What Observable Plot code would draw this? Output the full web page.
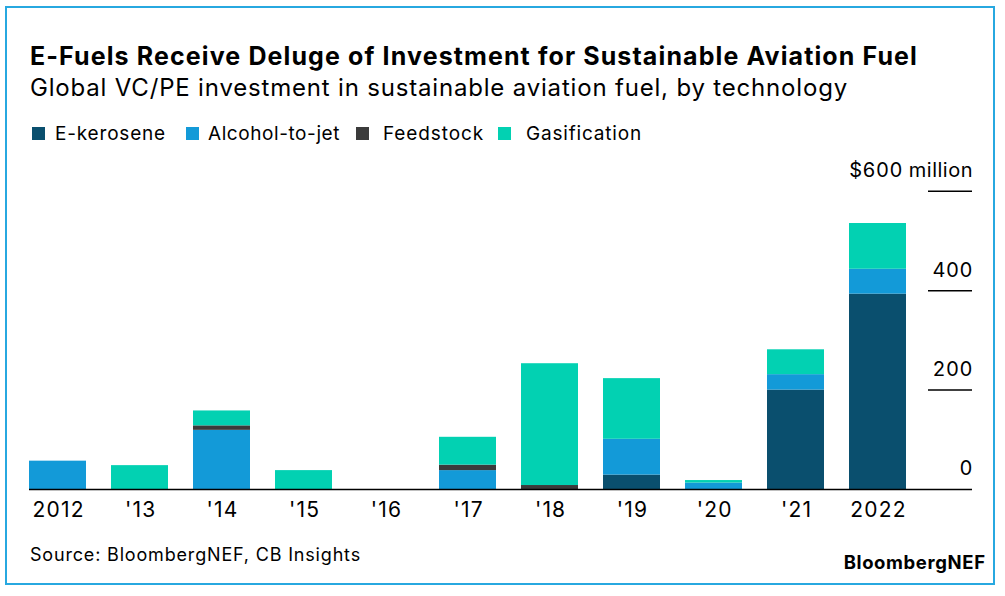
<!DOCTYPE html>
<html>
<head>
<meta charset="utf-8">
<script src="https://cdn.jsdelivr.net/npm/d3@7"></script>
<script src="https://cdn.jsdelivr.net/npm/@observablehq/plot@0.6"></script>
<style>
  html, body { margin: 0; padding: 0; background: #fff; }
  #wrap { position: relative; width: 1005px; height: 596px; overflow: hidden; background: #fff; font-family: Inter, "Liberation Sans", Arial, sans-serif; color: #000; }
  #frame { position: absolute; left: 5px; top: 6px; width: 990px; height: 579px; box-sizing: border-box; border: 2.5px solid #27a8e0; }
  .t { position: absolute; white-space: nowrap; }
  #title { left: 30px; top: 44px; font-size: 25px; line-height: 25px; font-weight: 700; }
  #subtitle { left: 30px; top: 75.5px; font-size: 24px; line-height: 24px; }
  .leg { position: absolute; top: 124.3px; font-size: 19px; line-height: 19px; white-space: nowrap; }
  .sw { position: absolute; top: 127px; width: 13px; height: 13px; }
  #source { left: 30px; top: 546px; font-size: 18px; line-height: 18px; }
  #brand { top: 552.7px; font-size: 18.5px; line-height: 18.5px; font-weight: 700; }
  #chart { position: absolute; left: 0; top: 150px; }
</style>
</head>
<body>
<div id="wrap">
  <div id="frame"></div>
  <div class="t" id="title" data-w="888">E-Fuels Receive Deluge of Investment for Sustainable Aviation Fuel</div>
  <div class="t" id="subtitle" data-w="818">Global VC/PE investment in sustainable aviation fuel, by technology</div>
  <div id="legend"></div>
  <div id="chart"></div>
  <div class="t" id="source" data-w="331">Source: BloombergNEF, CB Insights</div>
  <div class="t" id="brand" data-w="142" data-right="985">BloombergNEF</div>
</div>
<script>
const years = ["2012", "'13", "'14", "'15", "'16", "'17", "'18", "'19", "'20", "'21", "2022"];
const series = ["E-kerosene", "Alcohol-to-jet", "Feedstock", "Gasification"];
const colors = ["#0a4f6e", "#139ad8", "#3b3b3b", "#02d1b2"];
const eKerosene    = [0, 0, 0,   0,  0, 0,  0,   29, 0,  200, 393];
const alcoholToJet = [57, 0, 119, 0,  0, 38, 0,   72, 13, 31,  50];
const feedstock    = [0, 0, 9,   0,  0, 11, 8,   0,  0,  0,   0];
const gasification = [0, 48, 30, 38, 0, 56, 245, 122, 5, 50,  92];
const yTicks = [0, 200, 400, 600];

const seriesValues = [eKerosene, alcoholToJet, feedstock, gasification];
const rows = [];
series.forEach((s, i) => {
  years.forEach((yr, j) => rows.push({year: yr, tech: s, value: seriesValues[i][j]}));
});

// legend (layout only: swatch left, text left, text width)
const legendLayout = [[32, 55, 111], [186, 208, 132], [356, 383, 101], [498, 526, 116]];
const legend = document.getElementById("legend");
series.forEach((s, i) => {
  const [sx, tx, tw] = legendLayout[i];
  const sw = document.createElement("div");
  sw.className = "sw";
  sw.style.left = sx + "px";
  sw.style.background = colors[i];
  const t = document.createElement("div");
  t.className = "leg";
  t.style.left = tx + "px";
  t.dataset.w = tw;
  t.textContent = s;
  legend.appendChild(sw); legend.appendChild(t);
});

// fit text widths with letter-spacing
document.querySelectorAll("[data-w]").forEach(el => {
  const target = +el.dataset.w;
  const w = el.getBoundingClientRect().width;
  const n = el.textContent.length;
  el.style.letterSpacing = ((target - w) / n) + "px";
  if (el.dataset.right) {
    const w2 = el.getBoundingClientRect().width;
    el.style.left = (+el.dataset.right - w2 + (target - w) / n) + "px";
  }
});

const plot = Plot.plot({
  width: 1005,
  height: 390,
  marginTop: 40.7,
  marginBottom: 51,
  marginLeft: 29,
  marginRight: 33,
  style: {fontFamily: "Inter, Liberation Sans, Arial, sans-serif", fontSize: "20px", color: "#000", background: "transparent"},
  x: {domain: years, range: [16.7, 918.7], paddingInner: 0.3, paddingOuter: 0.15, label: null},
  y: {domain: [0, 600], label: null},
  color: {domain: series, range: colors},
  marks: [
    Plot.barY(rows, Plot.stackY({x: "year", y: "value", fill: "tech", order: series})),
    Plot.ruleY([200, 400, 600], {stroke: "#000", strokeWidth: 1.5, insetLeft: 899}),
    Plot.ruleY([0], {stroke: "#000", strokeWidth: 1.5}),
    Plot.axisX({tickSize: 0, tickPadding: 13, fontSize: 21, fill: "#000", dx: 0.6}),
    Plot.axisY({anchor: "right", ticks: yTicks, tickSize: 0, tickPadding: 0, textAnchor: "end", dx: 0.5, dy: -20.5, fontSize: 20, fill: "#000",
      tickFormat: d => d === 600 ? "$600 million" : String(d)})
  ]
});
d3.select(plot).selectAll("g[aria-label='x-axis tick label'] text").attr("letter-spacing", "1.2px");
d3.select(plot).selectAll("g[aria-label='y-axis tick label'] text").attr("letter-spacing", "0.5px");
document.getElementById("chart").appendChild(plot);
</script>
</body>
</html>
